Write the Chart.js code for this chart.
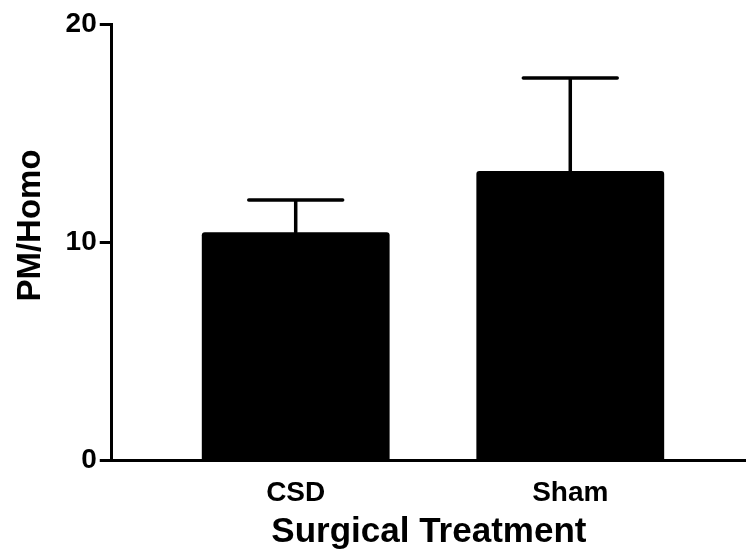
<!DOCTYPE html>
<html><head><meta charset="utf-8">
<script src="https://cdn.jsdelivr.net/npm/chart.js@4"></script>
<style>html,body{margin:0;padding:0;background:#fff}#wrap{width:746px;height:556px}</style>
</head><body><div id="wrap"><canvas id="c"></canvas></div>
<script>
const categories = ['CSD', 'Sham'];
const means = [10.45, 13.26];
const sems = [1.48, 4.26];
const yTicks = [0, 10, 20];
const xTitle = 'Surgical Treatment';
const yTitle = '\u2003PM/Homo';

const positions = categories.map((c, i) => i + 1);
const FONT = '"Liberation Sans", Arial, Helvetica, sans-serif';

const errorBars = {
  id: 'errorBars',
  afterDatasetsDraw(chart) {
    const meta = chart.getDatasetMeta(0);
    const y = chart.scales.y;
    const ctx = chart.ctx;
    ctx.save();
    ctx.strokeStyle = '#000';
    ctx.lineWidth = 3.5;
    ctx.lineCap = 'round';
    meta.data.forEach((bar, i) => {
      const top = y.getPixelForValue(means[i] + sems[i]);
      const half = bar.width / 4;
      ctx.beginPath();
      ctx.moveTo(bar.x, bar.y);
      ctx.lineTo(bar.x, top);
      ctx.moveTo(bar.x - half, top);
      ctx.lineTo(bar.x + half, top);
      ctx.stroke();
    });
    ctx.restore();
  }
};

new Chart(document.getElementById('c'), {
  type: 'bar',
  data: {
    datasets: [{
      data: positions.map((p, i) => ({ x: p, y: means[i] })),
      backgroundColor: '#000',
      borderWidth: 0,
      borderRadius: 3,
      barPercentage: 0.9,
      categoryPercentage: 0.76
    }]
  },
  options: {
    responsive: true,
    maintainAspectRatio: false,
    animation: false,
    layout: { padding: { top: 24, right: 0, bottom: 0, left: 0 } },
    plugins: { legend: { display: false }, tooltip: { enabled: false } },
    scales: {
      x: {
        type: 'linear',
        offset: false,
        min: 0.33,
        max: 2.64,
        afterBuildTicks: (s) => { s.ticks = positions.map(v => ({ value: v })); },
        afterFit: (s) => { s.height = 96; },
        ticks: {
          callback: (v, i) => categories[i],
          color: '#000',
          font: { family: FONT, size: 28, weight: 'bold' },
          padding: 16,
          autoSkip: false,
          maxRotation: 0
        },
        grid: { display: false, drawTicks: false },
        border: { display: true, color: '#000', width: 3 },
        title: {
          display: true,
          text: xTitle,
          color: '#000',
          font: { family: FONT, size: 35, weight: 'bold' },
          padding: { top: 0, bottom: 3 }
        }
      },
      y: {
        min: 0,
        max: 20,
        afterBuildTicks: (s) => { s.ticks = yTicks.map(v => ({ value: v })); },
        ticks: {
          color: '#000',
          font: { family: FONT, size: 28, weight: 'bold' },
          padding: 3
        },
        grid: {
          display: true,
          drawOnChartArea: false,
          drawTicks: true,
          tickLength: 12,
          tickWidth: 3,
          tickColor: '#000'
        },
        border: { display: true, color: '#000', width: 3 },
        title: {
          display: true,
          text: yTitle,
          color: '#000',
          font: { family: FONT, size: 33, weight: 'bold' },
          padding: { top: 11, bottom: 12 }
        }
      }
    }
  },
  plugins: [errorBars]
});
</script>
</body></html>
